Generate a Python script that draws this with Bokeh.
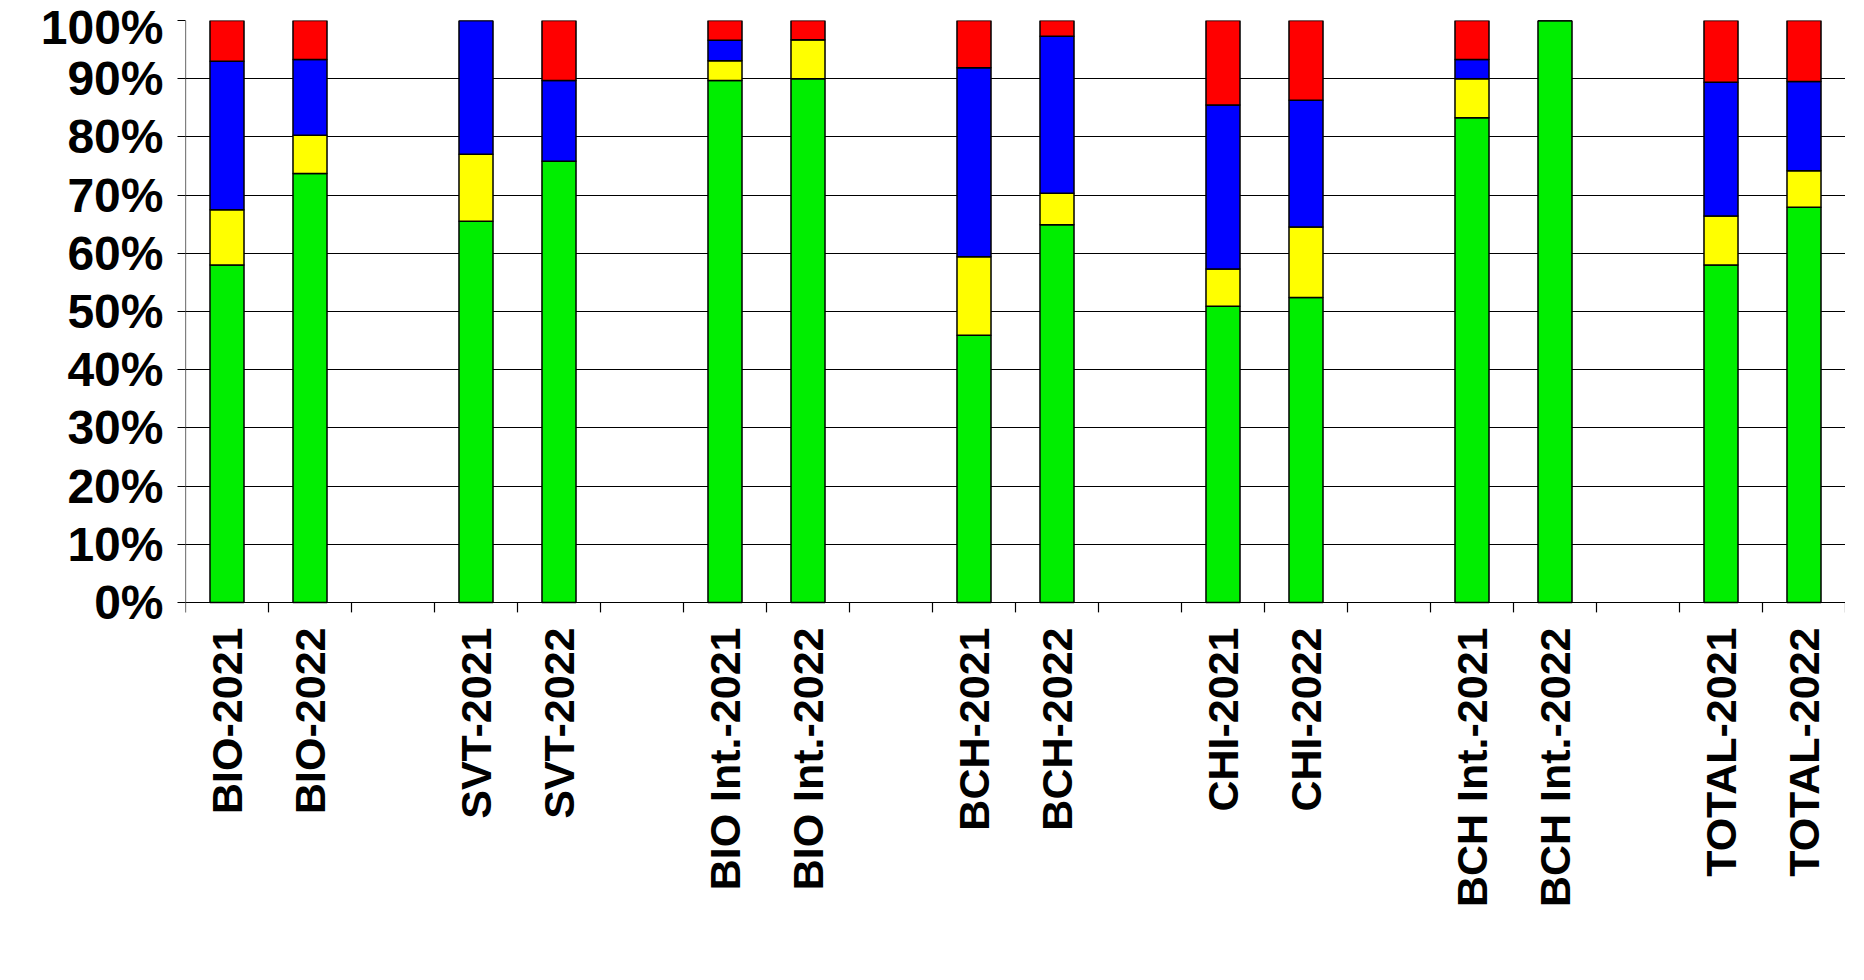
from bokeh.plotting import figure
from bokeh.models import ColumnDataSource, FixedTicker, Legend, Range1d
from bokeh.core.properties import value
from bokeh.embed import file_html
from bokeh.resources import INLINE
import math

# 20 slots, blanks ("") are the gaps between groups
categories = ["BIO-2021", "BIO-2022", "", "SVT-2021", "SVT-2022", "",
              "BIO Int.-2021", "BIO Int.-2022", "", "BCH-2021", "BCH-2022", "",
              "CHI-2021", "CHI-2022", "", "BCH Int.-2021", "BCH Int.-2022", "",
              "TOTAL-2021", "TOTAL-2022"]
adm1 = [58.0, 73.7, 0, 65.5, 75.8, 0, 89.7, 90.0, 0, 45.9, 64.9, 0, 50.9, 52.4, 0, 83.3, 100.0, 0, 58.0, 67.9]
adm2 = [9.5, 6.6, 0, 11.5, 0.0, 0, 3.4, 6.7, 0, 13.5, 5.4, 0, 6.4, 12.1, 0, 6.7, 0.0, 0, 8.4, 6.3]
aj = [25.5, 13.0, 0, 23.0, 13.9, 0, 3.5, 0.0, 0, 32.5, 27.0, 0, 28.2, 21.8, 0, 3.3, 0.0, 0, 23.0, 15.3]
defi = [7.0, 6.7, 0, 0.0, 10.3, 0, 3.4, 3.3, 0, 8.1, 2.7, 0, 14.5, 13.7, 0, 6.7, 0.0, 0, 10.6, 10.5]
y_ticks = list(range(0, 101, 10))

idx = [i for i, c in enumerate(categories) if c]
source = ColumnDataSource(data=dict(
    x=[i + 0.5 for i in idx],
    label=[categories[i] for i in idx],
    adm1=[adm1[i] for i in idx], adm2=[adm2[i] for i in idx],
    aj=[aj[i] for i in idx], defi=[defi[i] for i in idx],
))
n = len(categories)
bounds = list(range(0, n + 1))

# frame extends below 0 to hold the vertical category labels
p = figure(frame_width=1660, frame_height=905, output_backend="svg", toolbar_location=None,
           x_range=Range1d(0, n), y_range=Range1d(-55.5, 100),
           min_border_left=185, min_border_right=0, min_border_top=20, min_border_bottom=0)
p.outline_line_color = None
p.xgrid.visible = False
p.xaxis.visible = False
p.ygrid.grid_line_color = "black"
p.ygrid.grid_line_width = 1.2
p.ygrid.ticker = FixedTicker(ticks=y_ticks)

r = p.vbar_stack(["adm1", "adm2", "aj", "defi"], x="x", width=0.41, source=source,
                 color=["#00ee00", "#ffff00", "#0000ff", "#ff0000"],
                 line_color="black", line_width=1.5)

# axis lines and category boundary ticks
p.line([0, 0], [0, 100], line_color="black", line_width=1.2)
p.segment(x0=bounds, y0=[0] * len(bounds), x1=bounds, y1=[-1.7] * len(bounds),
          line_color="black", line_width=1.2)

p.text(x="x", y=-4.3, text="label", source=source, angle=math.pi / 2,
       text_align="right", text_baseline="middle", text_font=value("Liberation Sans"),
       text_font_style="bold", text_font_size="43px", text_color="black")

p.yaxis.ticker = FixedTicker(ticks=y_ticks)
p.yaxis.major_label_overrides = {v: f"{v}%" for v in y_ticks}
p.yaxis.major_label_text_font_size = "48px"
p.yaxis.major_label_text_font_style = "bold"
p.yaxis.major_label_text_font = "Liberation Sans"
p.yaxis.major_label_text_color = "black"
p.yaxis.major_tick_out = 8
p.yaxis.major_tick_in = 0
p.yaxis.minor_tick_line_color = None
p.yaxis.axis_line_color = None
p.yaxis.major_label_standoff = 14

legend = Legend(items=[("ADM session 1", [r[0]]), ("ADM session 2", [r[1]]),
                       ("AJ", [r[2]]), ("DEF", [r[3]])],
                orientation="horizontal", location=(-118, 0),
                label_text_font_size="32px", label_text_font_style="bold",
                label_text_font="Liberation Sans", label_text_color="black",
                glyph_width=22, glyph_height=22, label_height=24,
                spacing=75, border_line_color=None, padding=0, margin=0,
                background_fill_alpha=0)
p.add_layout(legend, "below")

open("out.html", "w").write(file_html(p, INLINE))
